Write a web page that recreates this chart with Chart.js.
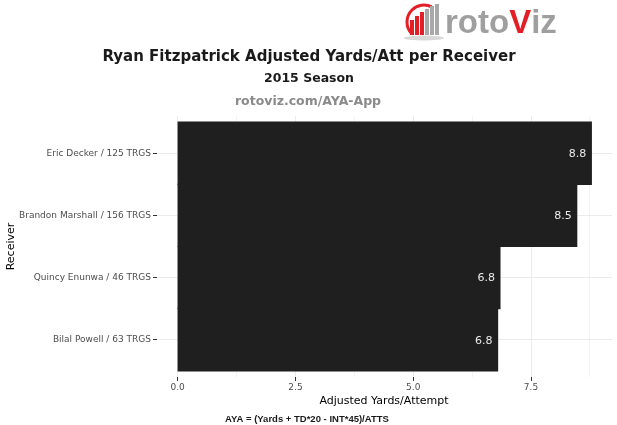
<!DOCTYPE html>
<html>
<head>
<meta charset="utf-8">
<script src="https://cdn.jsdelivr.net/npm/chart.js@4/dist/chart.umd.min.js"></script>
<style>
html,body{margin:0;padding:0;background:#fff;}
#wrap{position:relative;width:617px;height:425px;}
canvas{position:absolute;left:0;top:0;}
</style>
</head>
<body>
<div id="wrap"><canvas id="c" width="617" height="425"></canvas></div>
<script>
const receivers = ["Eric Decker / 125 TRGS", "Brandon Marshall / 156 TRGS", "Quincy Enunwa / 46 TRGS", "Bilal Powell / 63 TRGS"];
const aya = [8.78, 8.47, 6.84, 6.79];
const xTicks = [0, 2.5, 5.0, 7.5];
const xMinorTicks = [1.25, 3.75, 6.25, 8.75];
const titleText = "Ryan Fitzpatrick Adjusted Yards/Att per Receiver";
const subtitleText = "2015 Season";
const sourceText = "rotoviz.com/AYA-App";
const xTitle = "Adjusted Yards/Attempt";
const yTitle = "Receiver";
const footerText = "AYA = (Yards + TD*20 - INT*45)/ATTS";

const dataMax = Math.max(...aya);
const xMin = -0.05 * dataMax;
const xMax = dataMax * 1.05;
const FONT = "'DejaVu Sans', sans-serif";

const pts = aya.map((v, i) => ({x: v, y: i}));

const decor = {
  id: 'decor',
  afterDatasetsDraw(chart) {
    const ctx = chart.ctx;
    const meta = chart.getDatasetMeta(0);
    ctx.save();
    ctx.font = "11px " + FONT;
    ctx.fillStyle = "#ebebeb";
    ctx.textAlign = "right";
    ctx.textBaseline = "middle";
    meta.data.forEach((bar, i) => {
      ctx.fillText(aya[i].toFixed(1), bar.x - 5, bar.y + 1);
    });
    ctx.restore();
  },
  afterDraw(chart) {
    const ctx = chart.ctx;
    const ca = chart.chartArea;
    ctx.save();
    ctx.textAlign = "center";
    ctx.textBaseline = "alphabetic";
    ctx.fillStyle = "#1a1a1a";
    ctx.font = "bold 15px " + FONT;
    ctx.fillText(titleText, 309, 61);
    ctx.font = "bold 12.5px " + FONT;
    ctx.fillText(subtitleText, 309, 82);
    ctx.fillStyle = "#8a8a8a";
    ctx.font = "bold 12.5px " + FONT;
    ctx.fillText(sourceText, 308, 105);
    ctx.fillStyle = "#000";
    ctx.font = "11px " + FONT;
    ctx.fillText(xTitle, 384, 404);
    ctx.save();
    ctx.translate(14, (ca.top + ca.bottom) / 2);
    ctx.rotate(-Math.PI / 2);
    ctx.fillText(yTitle, 0, 0);
    ctx.restore();
    ctx.fillStyle = "#1a1a1a";
    ctx.font = "bold 9.5px 'Liberation Sans Narrow', 'Liberation Sans', sans-serif";
    ctx.textAlign = "left";
    ctx.fillText(footerText, 225, 422);
    // logo icon
    ctx.strokeStyle = "#e41e26";
    ctx.lineWidth = 3;
    ctx.beginPath();
    ctx.arc(424, 22, 17, Math.PI * 0.75, Math.PI * 1.65);
    ctx.stroke();
    ctx.fillStyle = "#e41e26";
    ctx.fillRect(410, 20, 4, 15);
    ctx.fillRect(415, 16, 4, 19);
    ctx.fillRect(420, 12, 4, 23);
    ctx.fillStyle = "#a8a8a8";
    ctx.fillRect(425, 9, 4, 26);
    ctx.fillRect(430, 6, 4, 29);
    ctx.fillRect(435, 4, 4, 31);
    ctx.fillStyle = "#d8d8d8";
    ctx.beginPath();
    ctx.ellipse(424, 38, 20, 2.5, 0, 0, Math.PI * 2);
    ctx.fill();
    ctx.font = "bold 33px 'Liberation Sans', Arial, sans-serif";
    ctx.textBaseline = "alphabetic";
    let x = 445;
    const parts = [["roto", "#9f9f9f"], ["V", "#e41e26"], ["iz", "#9f9f9f"]];
    parts.forEach(([t, c]) => {
      ctx.fillStyle = c;
      ctx.fillText(t, x, 33);
      x += ctx.measureText(t).width;
    });
    ctx.restore();
  }
};

new Chart(document.getElementById('c'), {
  type: 'bar',
  data: {
    datasets: [{
      data: pts,
      backgroundColor: '#1f1f1f',
      borderWidth: 0,
      inflateAmount: 0.6,
      barPercentage: 1.0,
      categoryPercentage: 1.0
    }]
  },
  options: {
    indexAxis: 'y',
    responsive: false,
    animation: false,
    layout: {padding: {top: 116, right: 5, left: 0, bottom: 0}},
    plugins: {legend: {display: false}, tooltip: {enabled: false}, title: {display: false}},
    scales: {
      x: {
        type: 'linear',
        min: xMin,
        max: xMax,
        afterBuildTicks(scale) {
          scale.ticks = xTicks.concat(xMinorTicks).sort((a, b) => a - b).map(v => ({value: v}));
        },
        afterFit(scale) { scale.height = 48; },
        ticks: {
          autoSkip: false,
          maxRotation: 0,
          color: '#4d4d4d',
          font: {size: 9, family: "'DejaVu Sans', sans-serif"},
          padding: 1,
          callback: (v) => xTicks.includes(v) ? v.toFixed(1) : ''
        },
        grid: {
          color: (ctx) => (ctx.tick && xMinorTicks.includes(ctx.tick.value)) ? '#f3f3f3' : '#ebebeb',
          tickColor: (ctx) => (ctx.tick && xMinorTicks.includes(ctx.tick.value)) ? 'rgba(0,0,0,0)' : '#333',
          tickLength: 4,
          lineWidth: 1
        },
        border: {display: false}
      },
      y: {
        type: 'linear',
        reverse: true,
        offset: false,
        min: -0.6,
        max: receivers.length - 1 + 0.6,
        afterBuildTicks(scale) {
          scale.ticks = receivers.map((r, i) => ({value: i}));
        },
        afterFit(scale) { scale.width = 157; },
        ticks: {
          autoSkip: false,
          color: '#4d4d4d',
          font: {size: 9, family: "'DejaVu Sans', sans-serif"},
          padding: 2,
          callback: (v) => receivers[v] !== undefined ? receivers[v] : ''
        },
        grid: {
          offset: false,
          color: '#ebebeb',
          tickColor: '#333',
          tickLength: 4,
          lineWidth: 1
        },
        border: {display: false}
      }
    }
  },
  plugins: [decor]
});
</script>
</body>
</html>
